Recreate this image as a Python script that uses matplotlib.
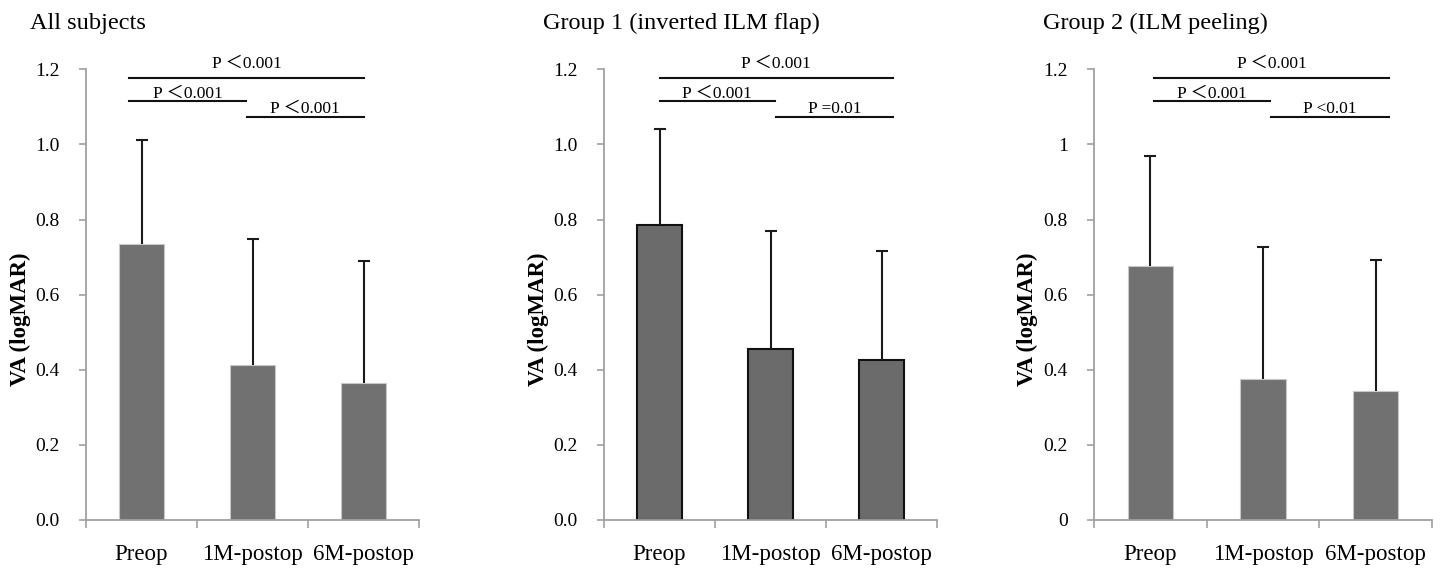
import matplotlib
matplotlib.use("Agg")
import matplotlib.pyplot as plt

plt.rcParams['font.family'] = ['Liberation Serif', 'Noto Sans CJK JP']

categories = ['Preop', '1M-postop', '6M-postop']
titles = ['All subjects', 'Group 1 (inverted ILM flap)', 'Group 2 (ILM peeling)']

va_all = [0.735, 0.412, 0.365]
sd_all = [0.277, 0.336, 0.325]
va_g1 = [0.785, 0.454, 0.425]
sd_g1 = [0.255, 0.315, 0.291]
va_g2 = [0.675, 0.375, 0.343]
sd_g2 = [0.295, 0.352, 0.350]

p_all = ['P \uff1c0.001', 'P \uff1c0.001', 'P \uff1c0.001']
p_g1 = ['P \uff1c0.001', 'P \uff1c0.001', 'P =0.01']
p_g2 = ['P \uff1c0.001', 'P \uff1c0.001', 'P <0.01']

yticks = [0, 0.2, 0.4, 0.6, 0.8, 1.0, 1.2]
ylabels_dec = ['0.0', '0.2', '0.4', '0.6', '0.8', '1.0', '1.2']
ylabels_g2 = ['0', '0.2', '0.4', '0.6', '0.8', '1', '1.2']

W, H = 1441, 571
fig = plt.figure(figsize=(W / 100, H / 100), dpi=100)

# axes boxes in pixels: left, right
boxes = [(86, 419), (604, 937), (1094, 1432)]
title_x = [30, 543, 1043]
bottom_px, top_px = 520, 69.3

# bracket spans (x0, x1, y, text lift)
spans = [
    [(-0.11, 2.0, 1.177, 0.028), (-0.11, 0.94, 1.116, 0.008), (0.95, 2.0, 1.072, 0.012)],
    [(0.0, 2.1, 1.177, 0.028), (0.0, 1.04, 1.116, 0.008), (1.05, 2.1, 1.072, 0.012)],
    [(0.03, 2.12, 1.177, 0.028), (0.03, 1.06, 1.116, 0.008), (1.07, 2.12, 1.072, 0.012)],
]

panels = [
    (va_all, sd_all, p_all, ylabels_dec, '#717171', '#c8c8c8', 0.8),
    (va_g1, sd_g1, p_g1, ylabels_dec, '#6b6b6b', '#111111', 1.5),
    (va_g2, sd_g2, p_g2, ylabels_g2, '#717171', '#c8c8c8', 0.8),
]

for i, (vals, sds, plabels, ylabs, fc, ec, elw) in enumerate(panels):
    l, r = boxes[i]
    ax = fig.add_axes([l / W, 1 - bottom_px / H, (r - l) / W, (bottom_px - top_px) / H])
    x = range(len(categories))
    ax.bar(x, vals, width=0.4, color=fc, edgecolor=ec, linewidth=elw, zorder=2)
    eb = ax.errorbar(x, vals, yerr=[[0] * 3, sds], fmt='none', ecolor='#1a1a1a',
                     elinewidth=1.5, capsize=4, capthick=1.5, zorder=3)
    eb[1][0].set_visible(False)  # no cap at the bar top
    ax.set_xlim(-0.5, 2.5)
    ax.set_ylim(0, 1.2)
    ax.set_yticks(yticks)
    ax.set_yticklabels(ylabs, fontsize=14)
    ax.set_xticks(list(x))
    ax.set_xticklabels(categories, fontsize=16.5)
    ax.set_xticks([-0.5, 0.5, 1.5, 2.5], minor=True)
    ax.tick_params(axis='x', which='major', length=0, pad=17)
    ax.tick_params(axis='x', which='minor', length=6, width=1.2, color='#a0a0a0')
    ax.tick_params(axis='y', length=5, width=1.2, color='#a0a0a0', pad=14)
    for s in ['top', 'right']:
        ax.spines[s].set_visible(False)
    for s in ['left', 'bottom']:
        ax.spines[s].set_color('#a0a0a0')
        ax.spines[s].set_linewidth(1.3)
    ax.set_ylabel('VA (logMAR)', fontsize=16.5, fontweight='bold')
    ax.yaxis.set_label_coords(-0.165, 0.445)
    for (x0, x1, yy, lift), txt in zip(spans[i], plabels):
        ax.plot([x0, x1], [yy, yy], color='#111111', lw=1.5, clip_on=False)
        ax.text((x0 + x1) / 2, yy + lift, txt, ha='center', va='baseline', fontsize=12.5)
    fig.text(title_x[i] / W, 1 - 29 / H, titles[i], fontsize=17.5, va='baseline', ha='left')

fig.savefig('out.png', dpi=100)
